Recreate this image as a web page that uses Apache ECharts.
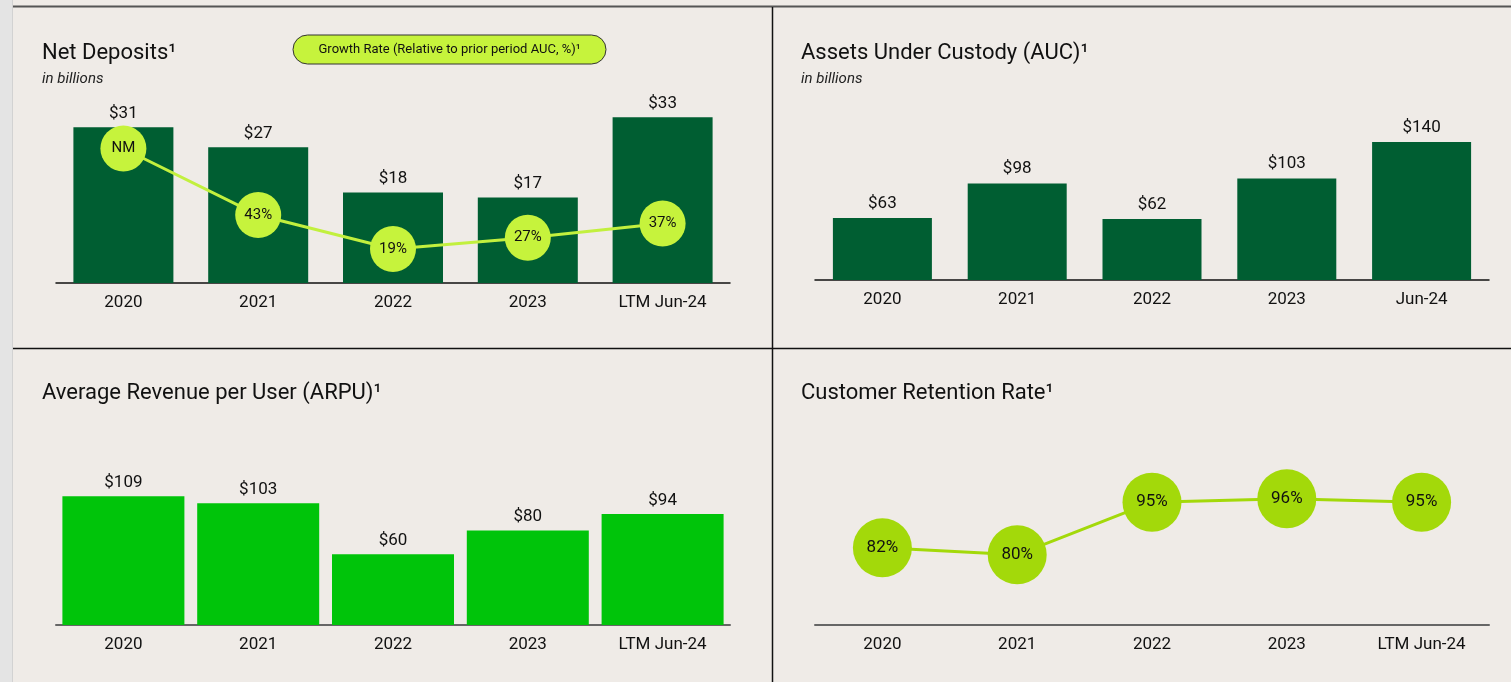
<!DOCTYPE html>
<html>
<head>
<meta charset="utf-8">
<script src="https://cdn.jsdelivr.net/npm/echarts@6/dist/echarts.min.js"></script>
<style>
html,body{margin:0;padding:0;background:#efebe7;}
#c{width:1511px;height:682px;}
</style>
</head>
<body>
<div id="c"></div>
<script>
// ---- data ----
const periods = ["2020", "2021", "2022", "2023", "LTM Jun-24"];
const aucPeriods = ["2020", "2021", "2022", "2023", "Jun-24"];
const netDeposits = [31, 27, 18, 17, 33];
const growthRate = [90, 43, 19, 27, 37]; // 2020 plotted as "NM" marker
const growthLabels = ["NM", "43%", "19%", "27%", "37%"];
const auc = [63, 98, 62, 103, 140];
const arpu = [109, 103, 60, 80, 94];
const retention = [82, 80, 95, 96, 95];

const FONT = "Roboto, 'Liberation Sans', sans-serif";
const TXT = "#111";
const DARK = "#005e32";
const BRIGHT = "#00c40a";
const LIME = "#c6f33c";
const LIME2 = "#a3d90a";

const chart = echarts.init(document.getElementById('c'), null, {renderer: 'canvas'});

function xAx(gi, data, lineColor, lineW) {
  return {
    type: 'category', gridIndex: gi, data: data,
    axisLine: {show: true, lineStyle: {color: lineColor, width: lineW}},
    axisTick: {show: false},
    axisLabel: {color: TXT, fontSize: 17, fontFamily: FONT, margin: 11, interval: 0}
  };
}
function yAx(gi, min, max) {
  return {type: 'value', gridIndex: gi, min: min, max: max, show: false, splitLine: {show: false}};
}
const barLabel = (dist) => ({
  show: true, position: 'top', distance: dist, color: TXT, fontSize: 17, fontFamily: FONT,
  formatter: p => '$' + p.value
});
const titleStyle = {fontSize: 22, fontWeight: 'normal', color: TXT, fontFamily: FONT};
const subStyle = {fontSize: 15, fontStyle: 'italic', fontWeight: 'normal', color: '#222', fontFamily: FONT};

chart.setOption({
  backgroundColor: '#efebe7',
  animation: false,
  textStyle: {fontFamily: FONT},
  title: [
    {text: 'Net Deposits¹', left: 37, top: 37, textStyle: titleStyle},
    {text: 'in billions', left: 37, top: 67, textStyle: subStyle},
    {text: 'Assets Under Custody (AUC)¹', left: 796, top: 37, textStyle: titleStyle},
    {text: 'in billions', left: 796, top: 67, textStyle: subStyle},
    {text: 'Average Revenue per User (ARPU)¹', left: 37, top: 377, textStyle: titleStyle},
    {text: 'Customer Retention Rate¹', left: 796, top: 377, textStyle: titleStyle}
  ],
  graphic: [
    {type: 'rect', shape: {x: 0, y: 0, width: 12, height: 682}, style: {fill: '#e4e4e4'}, silent: true},
    {type: 'line', shape: {x1: 12.5, y1: 0, x2: 12.5, y2: 682}, style: {stroke: '#d2d2d2', lineWidth: 1}, silent: true},
    {type: 'line', shape: {x1: 13, y1: 6.5, x2: 1511, y2: 6.5}, style: {stroke: '#555', lineWidth: 2}, silent: true},
    {type: 'line', shape: {x1: 772.5, y1: 7, x2: 772.5, y2: 682}, style: {stroke: '#111', lineWidth: 1.5}, silent: true},
    {type: 'line', shape: {x1: 13, y1: 348.5, x2: 1511, y2: 348.5}, style: {stroke: '#111', lineWidth: 1.5}, silent: true},
    {type: 'rect', shape: {x: 293, y: 35, width: 313, height: 29, r: 14.5}, style: {fill: LIME, stroke: '#333', lineWidth: 1}, silent: true},
    {type: 'text', x: 449.5, y: 49.5, style: {text: 'Growth Rate (Relative to prior period AUC, %)¹', fill: TXT, fontSize: 13, fontFamily: FONT, align: 'center', verticalAlign: 'middle'}, silent: true}
  ],
  grid: [
    {left: 56, top: 82, width: 674, height: 201},
    {left: 815, top: 83, width: 674, height: 197},
    {left: 56, top: 436, width: 674, height: 189},
    {left: 815, top: 425, width: 674, height: 200}
  ],
  xAxis: [
    xAx(0, periods, '#111', 1.5),
    xAx(1, aucPeriods, '#111', 1.5),
    xAx(2, periods, '#666', 2),
    xAx(3, periods, '#666', 2)
  ],
  yAxis: [
    yAx(0, 0, 40),
    yAx(0, -5, 137),
    yAx(1, 0, 200),
    yAx(2, 0, 160),
    yAx(3, 60, 117)
  ],
  series: [
    {type: 'bar', xAxisIndex: 0, yAxisIndex: 0, data: netDeposits, barWidth: 100,
      itemStyle: {color: DARK}, label: barLabel(5)},
    {type: 'line', xAxisIndex: 0, yAxisIndex: 1, data: growthRate, symbol: 'circle', symbolSize: 46,
      lineStyle: {color: '#c2f03e', width: 3}, itemStyle: {color: LIME},
      label: {show: true, position: 'inside', color: TXT, fontSize: 15, fontFamily: FONT,
        formatter: p => growthLabels[p.dataIndex]}, z: 5},
    {type: 'bar', xAxisIndex: 1, yAxisIndex: 2, data: auc, barWidth: 99,
      itemStyle: {color: DARK}, label: barLabel(6)},
    {type: 'bar', xAxisIndex: 2, yAxisIndex: 3, data: arpu, barWidth: 122,
      itemStyle: {color: BRIGHT}, label: barLabel(5)},
    {type: 'line', xAxisIndex: 3, yAxisIndex: 4, data: retention, symbol: 'circle', symbolSize: 59,
      lineStyle: {color: LIME2, width: 3}, itemStyle: {color: LIME2},
      label: {show: true, position: 'inside', color: TXT, fontSize: 17, fontFamily: FONT,
        formatter: p => p.value + '%'}, z: 5}
  ]
});
</script>
</body>
</html>
